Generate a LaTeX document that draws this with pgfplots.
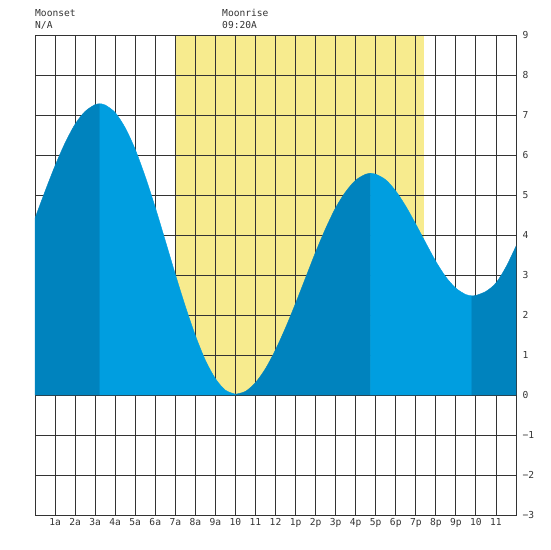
\documentclass[border=0pt]{standalone}
\usepackage{pgfplots}
\pgfplotsset{compat=1.18}
\usepackage{fontspec}
\setmainfont{DejaVu Sans Mono}
\definecolor{wdark}{HTML}{0083BE}
\definecolor{wlight}{HTML}{009EE0}
\definecolor{sun}{HTML}{F7EB8E}
\definecolor{gridc}{HTML}{333333}
\begin{document}
\begin{tikzpicture}
\path (0pt,0pt) rectangle (550pt,550pt);
\begin{axis}[
  at={(35pt,35pt)}, anchor=south west,
  width=481pt, height=480pt, scale only axis,
  set layers=standard,
  clip=false,
  xmin=0, xmax=24, ymin=-3, ymax=9,
  xtick={1,2,...,23},
  xticklabels={1a,2a,3a,4a,5a,6a,7a,8a,9a,10,11,12,1p,2p,3p,4p,5p,6p,7p,8p,9p,10,11},
  ytick={-3,-2,...,9},
  yticklabels={−3,−2,−1,0,1,2,3,4,5,6,7,8,9},
  yticklabel pos=right,
  major tick length=0pt,
  grid=major,
  major grid style={draw=gridc, line width=0.85pt},
  axis line style={draw=gridc, line width=0.85pt},
  tick label style={font=\fontsize{9.6}{11}\selectfont, text=gridc},
  yticklabel style={anchor=west, xshift=3pt},
]
\addplot[draw=none, fill=sun, on layer=axis background] coordinates {(7.02,9) (19.41,9)} \closedcycle;

\addplot[draw=wdark, line width=0.4pt, fill=wdark, smooth] coordinates {
(0,4.42) (0.5,5.09) (1,5.73) (1.5,6.30) (2,6.77) (2.5,7.09) (3,7.26) (3.24,7.28)
} \closedcycle;
\addplot[draw=wlight, line width=0.4pt, fill=wlight, smooth] coordinates {
(3.24,7.28) (3.5,7.25) (4,7.06) (4.5,6.68) (5,6.14) (5.5,5.46) (6,4.69) (6.5,3.86)
(7,3.02) (7.5,2.22) (8,1.49) (8.5,0.87) (9,0.41) (9.5,0.12) (10.01,0.02)
} \closedcycle;
\addplot[draw=wdark, line width=0.4pt, fill=wdark, smooth] coordinates {
(10.01,0.02) (10.5,0.09) (11,0.31) (11.5,0.66) (12,1.13) (12.5,1.68) (13,2.29)
(13.5,2.93) (14,3.57) (14.5,4.16) (15,4.68) (15.5,5.08) (16,5.37) (16.5,5.52) (16.75,5.54)
} \closedcycle;
\addplot[draw=wlight, line width=0.4pt, fill=wlight, smooth] coordinates {
(16.75,5.54) (17,5.52) (17.5,5.38) (18,5.10) (18.5,4.72) (19,4.27) (19.5,3.80)
(20,3.34) (20.5,2.95) (21,2.67) (21.5,2.51) (21.8,2.48)
} \closedcycle;
\addplot[draw=wdark, line width=0.4pt, fill=wdark, smooth] coordinates {
(21.8,2.48) (22,2.49) (22.5,2.59) (23,2.80) (23.5,3.20) (24,3.72)
} \closedcycle;

\node[anchor=base west, inner sep=0pt, font=\fontsize{9.6}{11}\selectfont, text=gridc]
  at ([yshift=18.3pt]axis cs:0,9) {Moonset};
\node[anchor=base west, inner sep=0pt, font=\fontsize{9.6}{11}\selectfont, text=gridc]
  at ([yshift=6.7pt]axis cs:0,9) {N/A};
\node[anchor=base west, inner sep=0pt, font=\fontsize{9.6}{11}\selectfont, text=gridc]
  at ([yshift=18.3pt]axis cs:9.333,9) {Moonrise};
\node[anchor=base west, inner sep=0pt, font=\fontsize{9.6}{11}\selectfont, text=gridc]
  at ([yshift=6.7pt]axis cs:9.333,9) {09:20A};
\end{axis}
\end{tikzpicture}
\end{document}
